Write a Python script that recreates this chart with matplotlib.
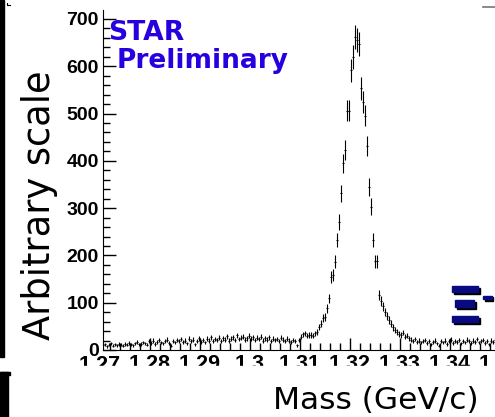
import numpy as np
import matplotlib
matplotlib.use("Agg")
import matplotlib.pyplot as plt
from matplotlib.patches import Rectangle
from matplotlib.ticker import MultipleLocator

# Histogramme de masse (bins de 0.0004 GeV a partir de 1.2704)
bin_lo = 1.2704
bin_width = 0.0004
counts = [
    10, 12, 8, 11, 14, 9, 12, 10, 13, 11,
    9, 13, 11, 15, 12, 10, 14, 17, 12, 13,
    16, 14, 11, 18, 15, 20, 13, 17, 21, 16,
    14, 19, 22, 15, 9, 18, 16, 21, 19, 23,
    17, 20, 14, 24, 18, 22, 12, 19, 25, 17,
    21, 16, 24, 20, 27, 18, 23, 21, 26, 19,
    25, 22, 29, 20, 24, 27, 21, 31, 23, 26,
    28, 22, 25, 30, 24, 27, 21, 26, 23, 28,
    20, 25, 22, 27, 19, 24, 21, 23, 18, 26,
    22, 19, 24, 20, 17, 21, 18, 10, 21, 28,
    33, 35, 30, 32, 32, 30, 35, 39, 49, 56,
    67, 70, 88, 109, 154, 159, 187, 233, 271, 331,
    395, 423, 506, 506, 592, 620, 662, 655, 648, 553,
    525, 495, 432, 345, 303, 233, 188, 188, 116, 104,
    92, 80, 72, 63, 55, 48, 42, 39, 34, 32,
    37, 28, 30, 25, 22, 19, 23, 17, 20, 16,
    18, 21, 15, 19, 12, 17, 20, 14, 9, 18,
    16, 20, 13, 18, 22, 15, 19, 17, 21, 14,
    19, 16, 22, 18, 15, 20, 17, 23, 16, 19,
    21, 15, 18, 12, 20, 17, 22, 16, 19, 18,
]
x_ticks = [1.28, 1.29, 1.30, 1.31, 1.32, 1.33, 1.34, 1.35]
x_tick_labels = ["1.28", "1.29", "1.3", "1.31", "1.32", "1.33", "1.34", "1.35"]
y_ticks = [0, 100, 200, 300, 400, 500, 600, 700]

W, H = 495, 417
fig = plt.figure(figsize=(W / 100, H / 100), dpi=100)


def fx(px):
    return px / W


def fy(py):
    return 1 - py / H


ax = fig.add_axes([fx(103), fy(350), (500 - 103) / W, (350 - 10) / H])

counts = np.array(counts, dtype=float)
centers = bin_lo + bin_width * (np.arange(len(counts)) + 0.5)
ax.errorbar(centers, counts, yerr=np.sqrt(counts), xerr=bin_width / 2,
            fmt="none", ecolor="black", elinewidth=0.8, capsize=0)

ax.set_xlim(1.2706, 1.35)
ax.set_ylim(0, 719)
ax.spines["top"].set_visible(False)
ax.spines["right"].set_visible(False)

y_font = dict(family="Liberation Sans", weight="bold", size=14)
x_font = dict(family="Liberation Sans", weight="bold", size=15.5)
ax.set_xticks(x_ticks)
ax.set_xticklabels(x_tick_labels, fontdict=x_font)
ax.set_yticks(y_ticks)
ax.set_yticklabels([str(v) for v in y_ticks], fontdict=y_font)
ax.xaxis.set_minor_locator(MultipleLocator(0.002))
ax.yaxis.set_minor_locator(MultipleLocator(20))
ax.tick_params(which="major", direction="in", length=9, width=1, pad=3)
ax.tick_params(which="minor", direction="in", length=5, width=1)
ax.tick_params(axis="x", which="major", pad=3)

# etiquette 1.27 (juste a gauche de l'axe)
lbl = ax.text(1.27, 0, "1.27", transform=ax.get_xaxis_transform(), ha="center", va="top",
              clip_on=False, **x_font)
lbl.set_y(-5 / 340)

# bas des etiquettes coupe comme sur l'original
fig.patches.append(Rectangle((fx(9), fy(381)), fx(495) - fx(9), fy(366) - fy(381),
                             transform=fig.transFigure, color="white", zorder=10))

# titres
fig.text(fx(40), fy(205), "Arbitrary scale", rotation=90, ha="center", va="center",
         family="DejaVu Sans", size=26.5)
fig.text(fx(376), fy(409), "Mass (GeV/c)", ha="center", va="baseline",
         family="DejaVu Sans", size=22.5, zorder=11)

blue = "#2800e0"
fig.text(fx(108), fy(40), "STAR", ha="left", va="baseline", color=blue,
         family="DejaVu Sans", weight="bold", size=19.2)
fig.text(fx(117), fy(68), "Preliminary", ha="left", va="baseline", color=blue,
         family="DejaVu Sans", weight="bold", size=19)

# symbole Xi- dessine en rectangles avec ombre
navy = "#0a0a80"
bars = [(452.3, 286, 478.3, 292.3), (455, 300, 474.3, 307.3),
        (452.3, 316, 478.3, 322.3), (483.3, 295.7, 491.7, 299)]
for x0, y0, x1, y1 in bars:
    fig.patches.append(Rectangle((fx(x0 + 1.5), fy(y1 + 1.5)), fx(x1) - fx(x0), fy(y0) - fy(y1),
                                 transform=fig.transFigure, color="black", zorder=5))
    fig.patches.append(Rectangle((fx(x0), fy(y1)), fx(x1) - fx(x0), fy(y0) - fy(y1),
                                 transform=fig.transFigure, color=navy, zorder=6))

# bords noirs a gauche et petits traits
fig.patches.append(Rectangle((0, fy(357)), fx(3.5), fy(0) - fy(357),
                             transform=fig.transFigure, color="black", zorder=12))
fig.patches.append(Rectangle((0, 0), fx(8), fy(372), transform=fig.transFigure,
                             color="black", zorder=12))
fig.patches.append(Rectangle((0, fy(375)), fx(10), fy(372) - fy(375),
                             transform=fig.transFigure, color="black", zorder=12))
fig.lines.append(plt.Line2D([fx(483), fx(495)], [fy(7), fy(7)], transform=fig.transFigure,
                            color="#777777", lw=1.2))
fig.lines.append(plt.Line2D([fx(7), fx(7), fx(10)], [fy(3), fy(5), fy(5)],
                            transform=fig.transFigure, color="black", lw=0.8))

fig.savefig("out.png", dpi=100)
